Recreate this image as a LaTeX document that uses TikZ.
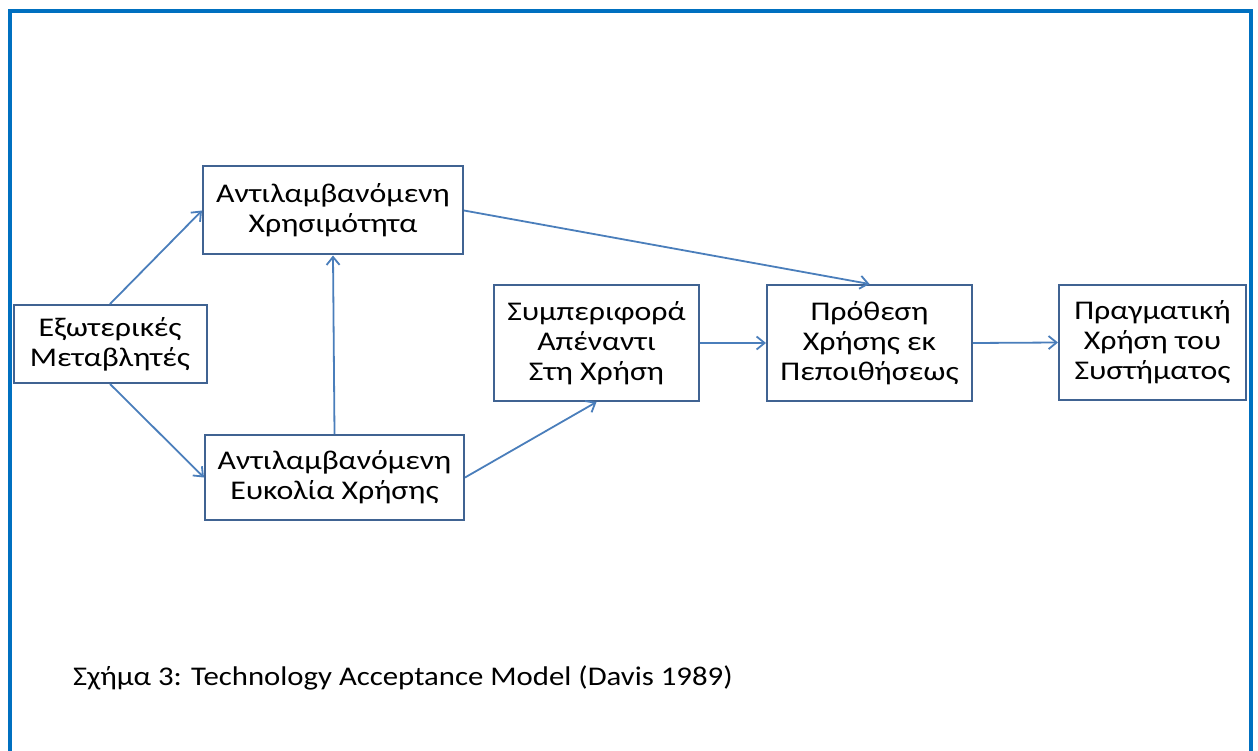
\documentclass[tikz,border=0pt]{standalone}
\usepackage{fontspec}
\setmainfont{Carlito}
\newfontfamily\boxfont[FakeStretch=1.18]{Carlito}
\newfontfamily\capfont[FakeStretch=1.14]{Carlito}
\usetikzlibrary{arrows.meta}
\definecolor{framecol}{RGB}{0,112,192}
\definecolor{boxline}{RGB}{64,99,146}
\definecolor{arrowcol}{RGB}{74,126,187}
\begin{document}
\begin{tikzpicture}[x=1pt,y=-1pt,
  stage/.style={draw=boxline,line width=2pt,fill=white,align=center,
    inner sep=0pt,font=\boxfont\fontsize{27}{30}\selectfont},
  link/.style={draw=arrowcol,line width=1.8pt,
    -{Straight Barb[length=8pt,width=13pt,line width=1.8pt]}}]
\useasboundingbox (0,0) rectangle (1258,751);
\clip (0,0) rectangle (1258,751);
% outer frame, open past the lower edge
\draw[framecol,line width=4pt] (10,820) -- (10,11) -- (1251,11) -- (1251,820);

% stages of the model
\node[stage,minimum width=193pt,minimum height=78pt] (ext) at (110,344)
  {Εξωτερικές\\Μεταβλητές};
\node[stage,minimum width=260pt,minimum height=88pt] (pu) at (333,210.5)
  {Αντιλαμβανόμενη\\Χρησιμότητα};
\node[stage,minimum width=259pt,minimum height=85pt] (peou) at (334.5,477.5)
  {Αντιλαμβανόμενη\\Ευκολία Χρήσης};
\node[stage,minimum width=205pt,minimum height=116pt] (att) at (596.5,343)
  {Συμπεριφορά\\Απέναντι\\Στη Χρήση};
\node[stage,minimum width=205pt,minimum height=116pt] (int) at (869.5,343)
  {Πρόθεση\\Χρήσης εκ\\Πεποιθήσεως};
\node[stage,minimum width=187pt,minimum height=115pt] (act) at (1152.5,342.5)
  {Πραγματική\\Χρήση του\\Συστήματος};

% causal links
\draw[link] (ext.north) -- (pu.west);
\draw[link] (ext.south) -- (peou.west);
\draw[link] (peou.north) -- (pu.south);
\draw[link] (peou.east) -- (att.south);
\draw[link] (pu.east) -- (int.north);
\draw[link] (att.east) -- (int.west);
\draw[link] (int.east) -- (act.west);

% caption
\node[anchor=base west,inner sep=0pt,font=\capfont\fontsize{27}{30}\selectfont] (cap) at (73,685)
  {Σχήμα 3: Technology Acceptance Model (Davis 1989)};
\end{tikzpicture}
\end{document}
